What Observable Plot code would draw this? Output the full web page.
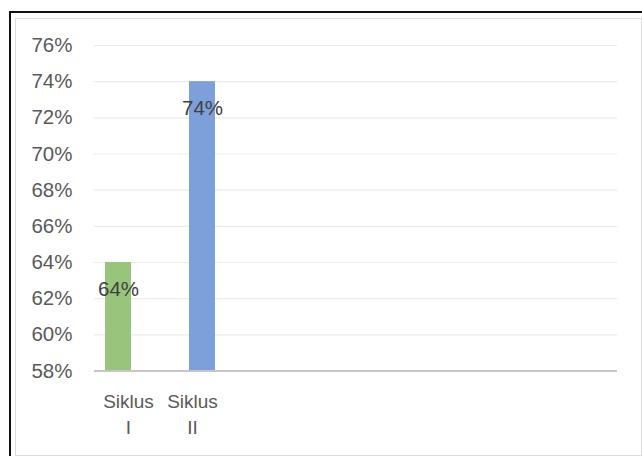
<!DOCTYPE html>
<html>
<head>
<meta charset="utf-8">
<script src="https://cdn.jsdelivr.net/npm/d3@7"></script>
<script src="https://cdn.jsdelivr.net/npm/@observablehq/plot@0.6"></script>
<style>
  html, body { margin: 0; padding: 0; background: #fff; overflow: hidden; }
  #wrap { position: relative; width: 642px; height: 456px; }
  #outer { position: absolute; left: 9px; top: 11px; width: 700px; height: 500px; border: 2px solid #111; box-sizing: border-box; }
  #inner { position: absolute; left: 15px; top: 18px; width: 627px; height: 438px; border: 1.5px solid #dcdcdc; border-right-width: 1px; box-sizing: border-box; }
  #chart { position: absolute; left: 0; top: 0; }
</style>
</head>
<body>
<div id="wrap">
  <div id="outer"></div>
  <div id="inner"></div>
  <div id="chart"></div>
</div>
<script>
const categories = ["Siklus I", "Siklus II"];
// two series, each with a value in one category only (Excel clustered layout)
const seriesGreen = [0.64, null];
const seriesBlue = [null, 0.74];
const seriesColors = ["#98c47c", "#7da0da"];
const yTicks = [0.58, 0.60, 0.62, 0.64, 0.66, 0.68, 0.70, 0.72, 0.74, 0.76];

const greenData = categories.map((c, i) => ({category: c, value: seriesGreen[i]})).filter(d => d.value != null);
const blueData = categories.map((c, i) => ({category: c, value: seriesBlue[i]})).filter(d => d.value != null);
const pct = d3.format(".0%");

const chart = Plot.plot({
  width: 642,
  height: 456,
  marginLeft: 94,
  marginRight: 25,
  marginTop: 45,
  marginBottom: 85.5,
  style: {fontFamily: "Liberation Sans, Arial, sans-serif", fontSize: "19px", color: "#595959", background: "transparent"},
  x: {type: "band", domain: categories, range: [94, 225], paddingInner: 0.6, paddingOuter: 0.3077, label: null},
  y: {domain: [0.58, 0.76], label: null},
  marks: [
    Plot.ruleY(yTicks.slice(1), {stroke: "#ececec", strokeWidth: 1.2}),
    Plot.barY(greenData, {x: "category", y1: 0.58, y2: "value", fill: seriesColors[0], dx: -10}),
    Plot.barY(blueData, {x: "category", y1: 0.58, y2: "value", fill: seriesColors[1], dx: 10}),
    Plot.ruleY([0.58], {stroke: "#c6c6c6", strokeWidth: 2.2}),
    Plot.axisY({ticks: yTicks, tickFormat: pct, tickSize: 0, tickPadding: 22, label: null, fontSize: 20.5}),
    Plot.axisX({tickFormat: d => d.replace(" ", "\n"), tickSize: 0, tickPadding: 18, lineHeight: 1.4, label: null, fontSize: 19}),
    Plot.text(greenData, {x: "category", y: "value", text: d => pct(d.value), dx: -10, dy: 27, fill: "#404040", fontSize: 20.5}),
    Plot.text(blueData, {x: "category", y: "value", text: d => pct(d.value), dx: 10, dy: 27, fill: "#404040", fontSize: 20.5})
  ]
});
document.getElementById("chart").appendChild(chart);
</script>
</body>
</html>
